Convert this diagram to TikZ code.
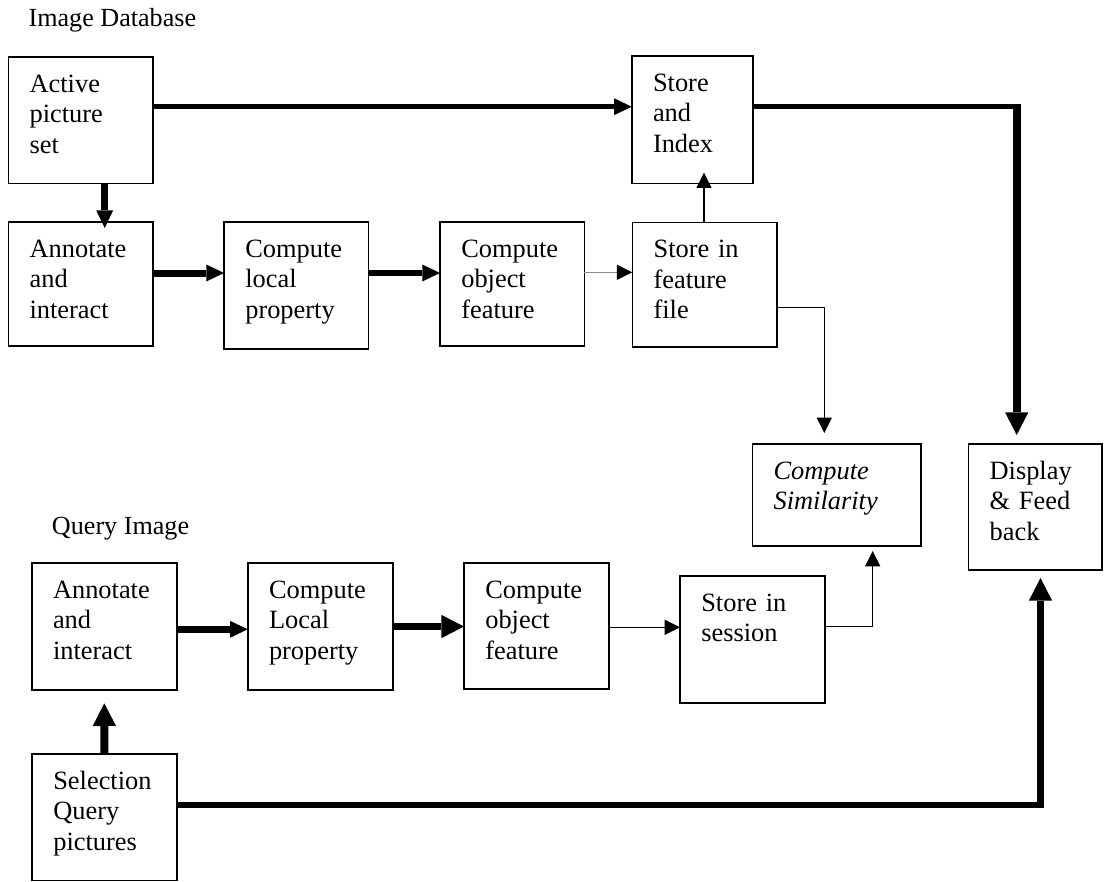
\documentclass[tikz,border=0pt]{standalone}
\usepackage{fontspec}
\setmainfont{Liberation Serif}
\usetikzlibrary{arrows.meta,calc}
\tikzset{
  box/.style={draw, line width=1.2pt, rectangle, inner sep=0pt, outer sep=0pt},
  lbl/.style={anchor=base west, inner sep=0pt, outer sep=0pt, text width=110pt, align=left,
              font=\fontsize{19.8pt}{22.8pt}\selectfont},
  ttl/.style={anchor=base west, inner sep=0pt, font=\fontsize{19.6pt}{22.8pt}\selectfont},
  cthin/.style={line width=1pt},
  tipS/.style={-{Triangle[length=11.5pt,width=11.5pt,line width=0pt]}},
  tipM/.style={-{Triangle[length=13.25pt,width=12.75pt,line width=0pt]}},
  tipL/.style={-{Triangle[length=17pt,width=17.5pt,line width=0pt]}},
  tipSk/.style={-{Triangle[length=11.5pt,width=11.5pt,line width=0pt,color=black]}},
}
\newcommand\mkbox[5]{%
  \pgfmathsetmacro\mbX{(#2+#4)/2}%
  \pgfmathsetmacro\mbY{(#3+#5)/2}%
  \pgfmathsetmacro\mbW{(#4-#2)*0.75}%
  \pgfmathsetmacro\mbH{(#5-#3)*0.75}%
  \node[box, minimum width=\mbW pt, minimum height=\mbH pt] (#1) at (\mbX,\mbY) {};}
\newcommand\mklbl[2]{\node[lbl] (#1-t) at ([shift={(21.3,35.5)}]#1.north west) {#2};}
\begin{document}
\begin{tikzpicture}[x=0.75pt, y=-0.75pt]
\fill[white] (0,0) rectangle (1104,882);
\useasboundingbox (0,0) rectangle (1104,882);

% titles
\node[ttl] (ttl1) at (28.3,26.7) {Image Database};
\node[ttl] (ttl2) at (51.7,534) {Query Image};

% boxes
\mkbox{active}{8.3}{56.7}{152.7}{183.3}
\mkbox{store}{631.7}{56}{752.7}{183.3}
\mkbox{annot1}{8.3}{221.7}{152.7}{346}
\mkbox{local1}{224}{222}{368.3}{349}
\mkbox{object1}{440}{222}{584.3}{346}
\mkbox{feature}{632.3}{222.3}{776.7}{346.7}
\mkbox{sim}{752.3}{444}{920.7}{545.7}
\mkbox{disp}{968.3}{444}{1102}{570}
\mkbox{annot2}{31.7}{562.7}{176.7}{690}
\mkbox{local2}{247.7}{562.7}{393}{690}
\mkbox{object2}{464}{562.7}{608.7}{689}
\mkbox{session}{680}{576}{825}{703}
\mkbox{selection}{32}{754}{177}{880.5}

% labels
\mklbl{active}{Active\\picture\\set}
\mklbl{store}{Store\\and\\Index}
\mklbl{annot1}{Annotate\\and\\interact}
\mklbl{local1}{Compute\\local\\property}
\mklbl{object1}{Compute\\object\\feature}
\mklbl{feature}{Store in\\feature\\file}
\mklbl{sim}{\itshape Compute\\Similarity}
\mklbl{disp}{Display\\\& Feed\\back}
\mklbl{annot2}{Annotate\\and\\interact}
\mklbl{local2}{Compute\\Local\\property}
\mklbl{object2}{Compute\\object\\feature}
\mklbl{session}{Store in\\session}
\mklbl{selection}{Selection\\Query\\pictures}

% connectors
% 1 active -> store
\coordinate (c1) at ([shift={(0,50)}]active.north east);
\draw[line width=3.75pt, tipM] (c1) -- (c1 -| store.west);
% 2 active -> annot1
\coordinate (c2) at ([shift={(96.4,0)}]active.south west);
\draw[line width=5.25pt, tipM, shorten >=-4.7pt] (c2) -- (c2 |- annot1.north);
% 3 annot1 -> local1
\coordinate (c3) at ([shift={(0,51.3)}]annot1.north east);
\draw[line width=5.25pt, tipM] (c3) -- (c3 -| local1.west);
% 4 local1 -> object1
\coordinate (c4) at ([shift={(0,51)}]local1.north east);
\draw[line width=5pt, tipM] (c4) -- (c4 -| object1.west);
% 5 object1 -> feature
\coordinate (c5) at ([shift={(0,50.3)}]object1.north east);
\draw[line width=0.8pt, draw=black!45, tipSk] (c5) -- (c5 -| feature.west);
% 6 feature -> store
\coordinate (c6) at ([shift={(71.7,0)}]feature.north west);
\draw[cthin, tipS, shorten >=-8pt] (c6) -- (c6 |- store.south);
% 7 feature -> sim
\coordinate (c7) at ([shift={(0,85)}]feature.north east);
\coordinate (c7b) at ([shift={(72,0)}]sim.north west);
\draw[cthin, tipS, shorten >=8.25pt] (c7) -| (c7b);
% 8 store -> display
\coordinate (c8) at ([shift={(0,50.7)}]store.north east);
\coordinate (c8b) at ([shift={(48.4,0)}]disp.north west);
\draw[line width=3.75pt] (c8) -- (c8 -| c8b);
\draw[line width=6pt, tipL, shorten >=6.75pt] ([shift={(0,-2.5)}]c8 -| c8b) -- (c8b);
% 9 annot2 -> local2
\coordinate (c9) at ([shift={(0,66.6)}]annot2.north east);
\draw[line width=5pt, tipM] (c9) -- (c9 -| local2.west);
% 10 local2 -> object2
\coordinate (c10) at ([shift={(0,63.8)}]local2.north east);
\draw[line width=5.25pt, tipL] (c10) -- (c10 -| object2.west);
% 11 object2 -> session
\coordinate (c11) at ([shift={(0,64.6)}]object2.north east);
\draw[cthin, tipS] (c11) -- (c11 -| session.west);
% 12 session -> sim
\coordinate (c12) at ([shift={(0,50.7)}]session.north east);
\coordinate (c12b) at ([shift={(120.4,0)}]sim.south west);
\draw[cthin, tipS, shorten >=4pt] (c12) -| (c12b);
% 13 selection -> annot2
\draw[line width=6pt, tipL, shorten >=10pt] (selection.north) -- (annot2.south);
% 14 selection -> display
\coordinate (c14) at ([shift={(0,51)}]selection.north east);
\coordinate (c14b) at ([shift={(72.2,0)}]disp.south west);
\draw[line width=4pt] (c14) -- (c14 -| c14b);
\draw[line width=5.75pt, tipL, shorten >=6pt] ([shift={(0,2.7)}]c14 -| c14b) -- (c14b);
\end{tikzpicture}
\end{document}
